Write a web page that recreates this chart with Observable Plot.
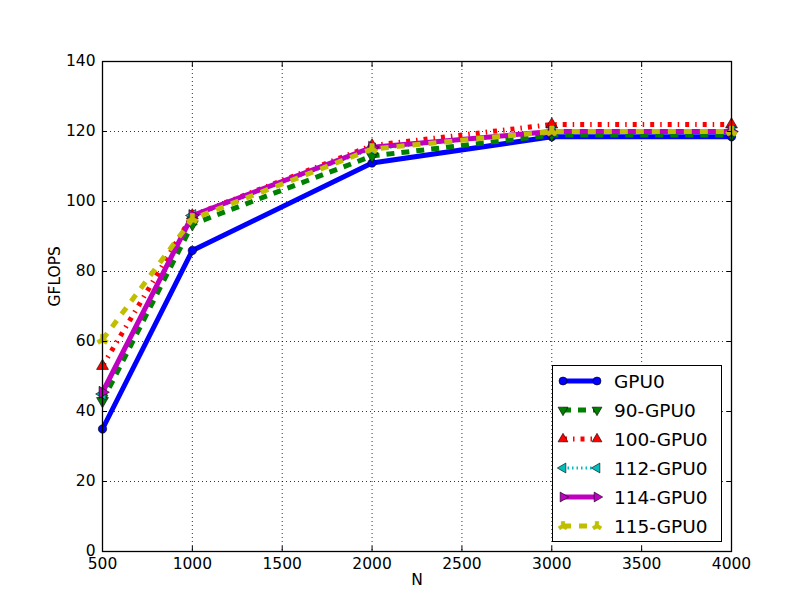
<!DOCTYPE html>
<html><head><meta charset="utf-8">
<script src="https://cdn.jsdelivr.net/npm/d3@7"></script>
<script src="https://cdn.jsdelivr.net/npm/@observablehq/plot@0.6"></script>
<style>body{margin:0;background:#fff;} #chart svg{font-family:"DejaVu Sans",sans-serif;}</style>
</head><body><div id="chart"></div>
<script>
const N = [500, 1000, 2000, 3000, 4000];
const names = ["GPU0", "90-GPU0", "100-GPU0", "112-GPU0", "114-GPU0", "115-GPU0"];
const gpu0   = [35, 86, 111, 118.5, 118.5];
const gpu90  = [43, 93.5, 113, 119, 119];
const gpu100 = [53, 96, 116, 122, 122];
const gpu112 = [45, 96, 115, 120, 120];
const gpu114 = [45.5, 96, 115.5, 120, 120];
const gpu115 = [60.5, 95, 115, 120, 120];
const xTicks = [500, 1000, 1500, 2000, 2500, 3000, 3500, 4000];
const yTicks = [0, 20, 40, 60, 80, 100, 120, 140];

const styles = [
  {color: "#0000ff", width: 5, dash: null, symbol: "circle", rotate: 0},
  {color: "#008000", width: 5, dash: "8,7", symbol: "triangle", rotate: 180},
  {color: "#ff0000", width: 5, dash: "4,6,1.5,6", symbol: "triangle", rotate: 0},
  {color: "#00bfbf", width: 3, dash: "1.5,3", symbol: "triangle", rotate: -90},
  {color: "#bf00bf", width: 5, dash: null, symbol: "triangle", rotate: 90},
  {color: "#bfbf00", width: 5, dash: "8,8", symbol: "wye", rotate: 180}
];
const seriesVals = [gpu0, gpu90, gpu100, gpu112, gpu114, gpu115];

const marks = [
  Plot.gridX(xTicks, {stroke: "black", strokeOpacity: 1, strokeWidth: 0.8, strokeDasharray: "1,3"}),
  Plot.gridY(yTicks, {stroke: "black", strokeOpacity: 1, strokeWidth: 0.8, strokeDasharray: "1,3"}),
];
seriesVals.forEach((vals, i) => {
  const s = styles[i];
  const data = N.map((n, j) => ({n, v: vals[j]}));
  marks.push(Plot.line(data, {x: "n", y: "v", stroke: s.color, strokeWidth: s.width,
    strokeDasharray: s.dash, strokeLinejoin: "miter", strokeLinecap: "butt"}));
  marks.push(Plot.dot(data, {x: "n", y: "v", symbol: s.symbol, r: s.symbol === "circle" ? 4.2 : 4.4,
    fill: s.color, stroke: s.symbol === "wye" ? s.color : "black", strokeWidth: 0.6, rotate: s.rotate, clip: false}));
});
marks.push(
  Plot.frame({stroke: "black", strokeWidth: 1.3}),
  Plot.axisX(xTicks, {anchor: "bottom", tickSize: -5, tickPadding: 11, label: null, fontSize: 15.5, tickFormat: d => String(d)}),
  Plot.axisX(xTicks, {anchor: "top", tickSize: -5, label: null, tickFormat: () => ""}),
  Plot.axisY(yTicks, {anchor: "left", tickSize: -5, tickPadding: 12, label: null, fontSize: 15.5, tickFormat: d => String(d)}),
  Plot.axisY(yTicks, {anchor: "right", tickSize: -5, label: null, tickFormat: () => ""}),
  Plot.text(["N"], {frameAnchor: "bottom", dy: 33, fontSize: 15.5, fill: "black"}),
  Plot.text(["GFLOPS"], {frameAnchor: "left", dx: -47, rotate: -90, fontSize: 15.5, fill: "black"})
);

const chart = Plot.plot({
  width: 812, height: 612,
  marginLeft: 102, marginRight: 81, marginTop: 61, marginBottom: 61,
  x: {domain: [500, 4000]},
  y: {domain: [0, 140]},
  style: {fontFamily: "DejaVu Sans, sans-serif", color: "black", background: "white"},
  marks
});
document.getElementById("chart").appendChild(chart);

// legend box
const svg = d3.select(chart);
const lg = svg.append("g").attr("font-family", "DejaVu Sans, sans-serif").attr("text-anchor", "start");
lg.append("rect").attr("x", 552.5).attr("y", 365.5).attr("width", 169).attr("height", 176)
  .attr("fill", "white").attr("stroke", "black").attr("stroke-width", 1);
names.forEach((name, i) => {
  const s = styles[i];
  const y = 381 + i * 29;
  lg.append("line").attr("x1", 563).attr("x2", 597).attr("y1", y).attr("y2", y)
    .attr("stroke", s.color).attr("stroke-width", s.width).attr("stroke-dasharray", s.dash);
  const sym = d3.symbol().type(s.symbol === "circle" ? d3.symbolCircle : s.symbol === "wye" ? d3.symbolWye : d3.symbolTriangle)
    .size(s.symbol === "circle" ? Math.PI * 16 : 42)();
  [563, 597].forEach(x => {
    lg.append("path").attr("d", sym).attr("transform", `translate(${x},${y}) rotate(${s.rotate})`)
      .attr("fill", s.color).attr("stroke", s.symbol === "wye" ? s.color : "black").attr("stroke-width", 0.6);
  });
  lg.append("text").attr("x", 614).attr("y", y).attr("dy", "0.36em").attr("font-size", 18.5)
    .attr("text-anchor", "start").attr("fill", "black").text(name);
});
</script></body></html>
